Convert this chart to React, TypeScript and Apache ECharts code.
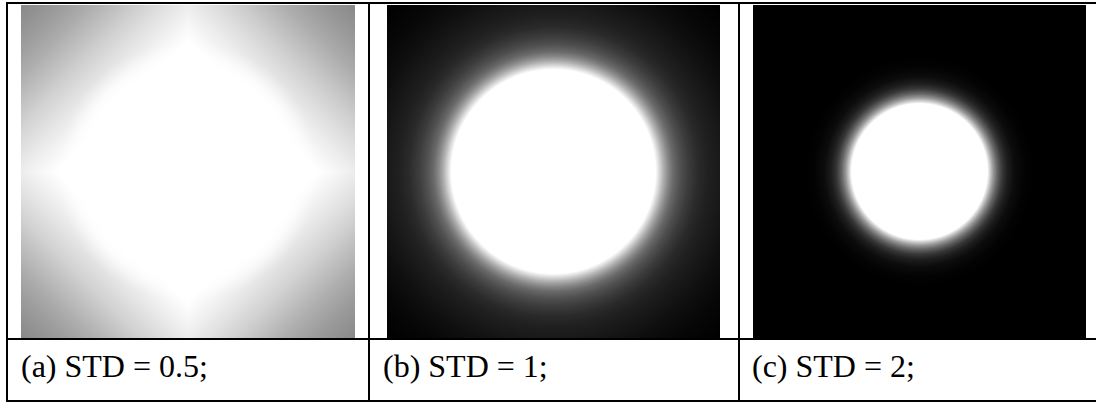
import React, { useEffect, useRef } from "react";
import * as echarts from "echarts";

// Captions of the three panels and their STD values
const PANEL_LABELS = ["(a) STD = 0.5;", "(b) STD = 1;", "(c) STD = 2;"];
const STD_VALUES = [0.5, 1, 2];

// Panel (a): four quadrants of the image, gray level vs |x|+|y| (in half-widths)
const A_QUADRANTS = [
  [1, 1],
  [-1, 1],
  [-1, -1],
  [1, -1],
];
const A_L1_DIST = [0, 0.79, 0.9, 1.0, 1.14, 1.29, 1.44, 1.59, 1.74, 1.89, 2.0];
const A_L1_GRAY = [255, 255, 246, 237, 224, 208, 190, 172, 157, 145, 137];
// Panel (a): white round core, opacity vs radius (in half-widths)
const A_CORE_DIST = [0, 0.61, 0.66, 0.7, 0.74, 0.78];
const A_CORE_ALPHA = [1, 1, 0.8, 0.5, 0.2, 0];

// Panel (b): gray level vs radius (in half-widths)
const B_DIST = [0, 0.613, 0.637, 0.661, 0.691, 0.721, 0.763, 0.811, 0.871, 0.931, 1.0, 1.111, 1.231, 1.42];
const B_GRAY = [255, 255, 215, 175, 135, 105, 80, 60, 42, 32, 25, 15, 7, 0];

// Panel (c): gray level vs radius (in half-widths)
const C_DIST = [0, 0.408, 0.426, 0.444, 0.468, 0.498, 0.529, 0.571, 0.631, 0.691, 1.42];
const C_GRAY = [255, 255, 200, 150, 100, 55, 30, 12, 3, 0, 0];

const CENTER = [[0, 0]];
const RMAX = 1.42;

const gray = (g: number) => `rgb(${g},${g},${g})`;

export default function App() {
  const ref = useRef<HTMLDivElement>(null);

  useEffect(() => {
    document.body.style.margin = "0";
    if (!ref.current) return;
    const chart = echarts.init(ref.current, undefined, { renderer: "svg" });

    const quadRender = (params: any, api: any) => {
      const sx = api.value(0);
      const sy = api.value(1);
      const p0 = api.coord([0, 0]);
      const p1 = api.coord([sx, sy]);
      let x = Math.min(p0[0], p1[0]);
      let y = Math.min(p0[1], p1[1]);
      let w = Math.abs(p1[0] - p0[0]);
      let h = Math.abs(p1[1] - p0[1]);
      // slight overlap toward the centre to avoid seams
      if (sx < 0) w += 1; else { x -= 1; w += 1; }
      if (sy > 0) h += 1; else { y -= 1; h += 1; }
      const cx = sx > 0 ? 0 : 1;
      const cy = sy > 0 ? 1 : 0;
      return {
        type: "rect",
        shape: { x, y, width: w, height: h },
        style: {
          fill: {
            type: "linear",
            x: cx,
            y: cy,
            x2: 1 - cx,
            y2: 1 - cy,
            global: false,
            colorStops: A_L1_DIST.map((d, i) => ({ offset: d / 2, color: gray(A_L1_GRAY[i]) })),
          },
        },
      };
    };

    const coreRender = (params: any, api: any) => {
      const c = api.coord([api.value(0), api.value(1)]);
      const edge = api.coord([1, 0]);
      const half = edge[0] - c[0];
      const R = half * A_CORE_DIST[A_CORE_DIST.length - 1];
      return {
        type: "circle",
        shape: { cx: c[0], cy: c[1], r: R },
        style: {
          fill: {
            type: "radial",
            x: c[0],
            y: c[1],
            r: R,
            global: true,
            colorStops: A_CORE_DIST.map((d, i) => ({
              offset: d / A_CORE_DIST[A_CORE_DIST.length - 1],
              color: `rgba(255,255,255,${A_CORE_ALPHA[i]})`,
            })),
          },
        },
      };
    };

    const radialRender = (dist: number[], grays: number[]) => (params: any, api: any) => {
      const c = api.coord([api.value(0), api.value(1)]);
      const tl = api.coord([-1, 1]);
      const br = api.coord([1, -1]);
      const half = (br[0] - tl[0]) / 2;
      const R = half * RMAX;
      return {
        type: "rect",
        shape: { x: tl[0], y: tl[1], width: br[0] - tl[0], height: br[1] - tl[1] },
        style: {
          fill: {
            type: "radial",
            x: c[0],
            y: c[1],
            r: R,
            global: true,
            colorStops: dist.map((d, i) => ({ offset: Math.min(1, d / RMAX), color: gray(grays[i]) })),
          },
        },
      };
    };

    const grids = [
      { left: 21, top: 5, width: 334, height: 333 },
      { left: 387, top: 5, width: 333, height: 333 },
      { left: 753, top: 5, width: 333, height: 333 },
    ];

    const lineStyle = { stroke: "#000", lineWidth: 2 };
    const lines = [
      [6, 3, 1096, 3],
      [7, 2, 7, 402],
      [369, 2, 369, 402],
      [739, 2, 739, 402],
      [6, 339, 1096, 339],
      [6, 401, 1096, 401],
    ].map(([x1, y1, x2, y2]) => ({
      type: "line",
      shape: { x1, y1, x2, y2 },
      style: lineStyle,
      z: 100,
      silent: true,
    }));

    const captionX = [21, 383, 752];
    const texts = PANEL_LABELS.map((t, i) => ({
      type: "text",
      x: captionX[i],
      y: 366,
      z: 100,
      silent: true,
      style: {
        text: t,
        fill: "#000",
        font: "32px 'Liberation Serif', 'Times New Roman', serif",
        textAlign: "left",
        textVerticalAlign: "middle",
      },
    }));

    chart.setOption({
      animation: false,
      backgroundColor: "#fff",
      grid: grids.map((g) => ({ ...g, show: false })),
      xAxis: STD_VALUES.map((_, i) => ({ type: "value", gridIndex: i, min: -1, max: 1, show: false })),
      yAxis: STD_VALUES.map((_, i) => ({ type: "value", gridIndex: i, min: -1, max: 1, show: false })),
      series: [
        { type: "custom", xAxisIndex: 0, yAxisIndex: 0, data: A_QUADRANTS, renderItem: quadRender, silent: true, z: 1 },
        { type: "custom", xAxisIndex: 0, yAxisIndex: 0, data: CENTER, renderItem: coreRender, silent: true, z: 2 },
        { type: "custom", xAxisIndex: 1, yAxisIndex: 1, data: CENTER, renderItem: radialRender(B_DIST, B_GRAY), silent: true, z: 1 },
        { type: "custom", xAxisIndex: 2, yAxisIndex: 2, data: CENTER, renderItem: radialRender(C_DIST, C_GRAY), silent: true, z: 1 },
      ],
      graphic: [...lines, ...texts],
    });

    return () => chart.dispose();
  }, []);

  return (
    <div
      ref={ref}
      style={{ position: "absolute", left: 0, top: 0, width: 1096, height: 405 }}
    />
  );
}
